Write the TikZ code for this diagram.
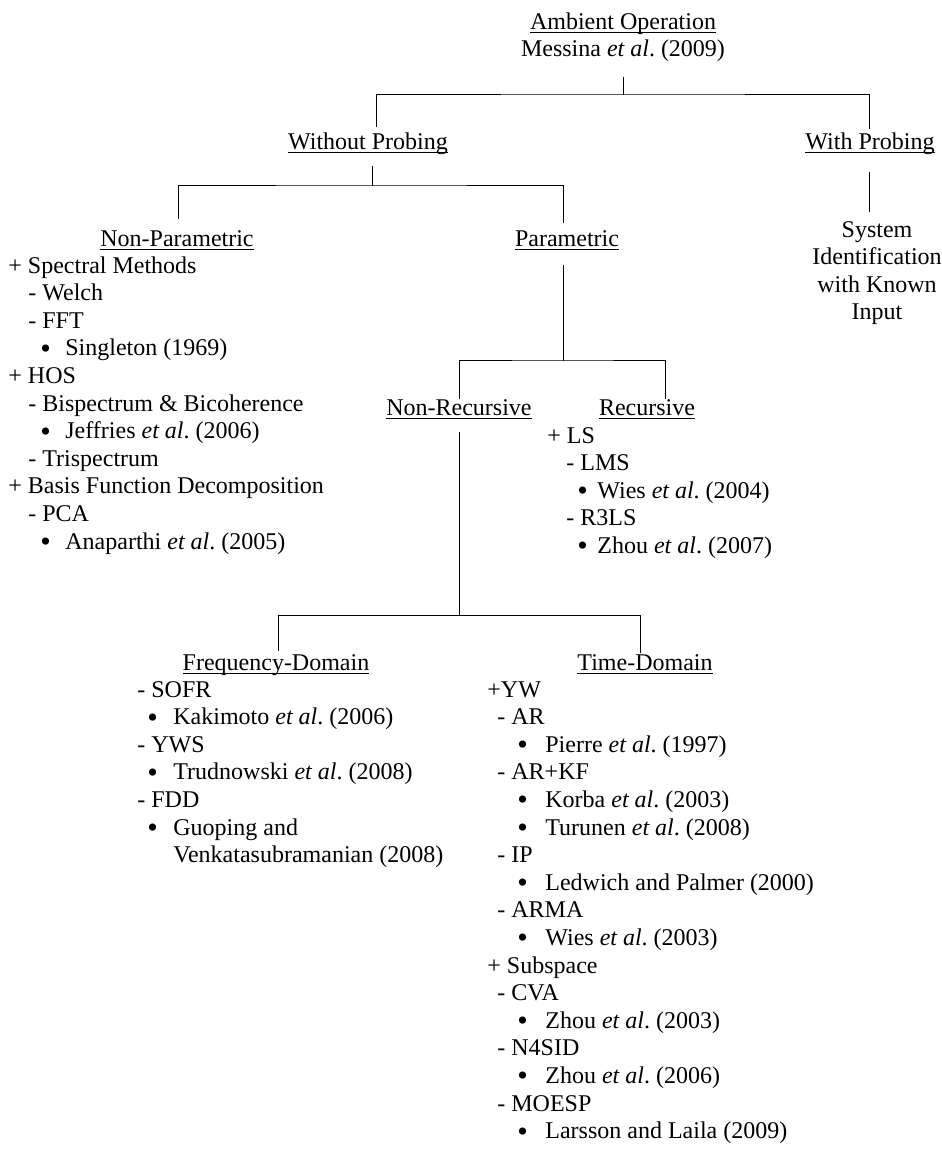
\documentclass[tikz,border=0pt]{standalone}
\usepackage{fontspec}
\setmainfont{Liberation Serif}
\frenchspacing

% underlined heading with a rule just below the baseline
\newcommand\ulhead[1]{\setbox0=\hbox{#1}\rlap{\rule[-1.9pt]{\wd0}{0.6pt}}\box0}
% list levels: "- item", bullet item, continuation of a bullet item
\newlength\indm \newlength\indb \newlength\indt
\newcommand\bul{\raisebox{-1.2pt}{\fontsize{15}{15}\selectfont •}}
\newcommand\Lm[1]{\hspace*{\indm}- #1}
\newcommand\Lb[1]{\hspace*{\indb}\makebox[\dimexpr\indt-\indb\relax][l]{\bul}#1}
\newcommand\Lc[1]{\hspace*{\indt}#1}
\newcommand\etal{\textit{et al}.}

\begin{document}
\begin{tikzpicture}[x=0.5pt,y=-0.5pt,
  every node/.style={inner sep=0pt, font=\fontsize{12}{13.8}\selectfont},
  head/.style={anchor=base},
  listbox/.style={anchor=base west},
  link/.style={line width=0.5pt, line cap=rect}]
\useasboundingbox (0,0) rectangle (942,1168);

% ---- headings -------------------------------------------------------
\node[head] (amb) at (623,29) {\begin{tabular}[t]{@{}c@{}}\ulhead{Ambient Operation}\\ Messina \etal{} (2009)\end{tabular}};
\node[head] (wop) at (368,149) {\ulhead{Without Probing}};
\node[head] (wp)  at (870,149) {\ulhead{With Probing}};
\node[head] (sysid) at (877,237) {\begin{tabular}[t]{@{}c@{}}System\\ Identification\\ with Known\\ Input\end{tabular}};
\node[head] (np)  at (177,246) {\ulhead{Non-Parametric}};
\node[head] (par) at (567,246) {\ulhead{Parametric}};
\node[head] (nrec) at (459,415) {\ulhead{Non-Recursive}};
\node[head] (rec) at (647,415) {\ulhead{Recursive}};
\node[head] (fd)  at (276,670) {\ulhead{Frequency-Domain}};
\node[head] (td)  at (645,670) {\ulhead{Time-Domain}};

% ---- lists ----------------------------------------------------------
\node[listbox] (nplist) at (8,273) {\setlength\indm{10pt}\setlength\indb{16pt}\setlength\indt{28.5pt}%
\begin{tabular}[t]{@{}l@{}}
+ Spectral Methods\\
\Lm{Welch}\\
\Lm{FFT}\\
\Lb{Singleton (1969)}\\
+ HOS\\
\Lm{Bispectrum \& Bicoherence}\\
\Lb{Jeffries \etal{} (2006)}\\
\Lm{Trispectrum}\\
+ Basis Function Decomposition\\
\Lm{PCA}\\
\Lb{Anaparthi \etal{} (2005)}
\end{tabular}};

\node[listbox] (reclist) at (547,443) {\setlength\indm{9.5pt}\setlength\indb{15pt}\setlength\indt{25pt}%
\begin{tabular}[t]{@{}l@{}}
+ LS\\
\Lm{LMS}\\
\Lb{Wies \etal{} (2004)}\\
\Lm{R3LS}\\
\Lb{Zhou \etal{} (2007)}
\end{tabular}};

\node[listbox] (fdlist) at (137,697) {\setlength\indm{0pt}\setlength\indb{5pt}\setlength\indt{18pt}%
\begin{tabular}[t]{@{}l@{}}
\Lm{SOFR}\\
\Lb{Kakimoto \etal{} (2006)}\\
\Lm{YWS}\\
\Lb{Trudnowski \etal{} (2008)}\\
\Lm{FDD}\\
\Lb{Guoping and}\\
\Lc{Venkatasubramanian (2008)}
\end{tabular}};

\node[listbox] (tdlist) at (487,697) {\setlength\indm{5pt}\setlength\indb{15pt}\setlength\indt{29pt}%
\begin{tabular}[t]{@{}l@{}}
+YW\\
\Lm{AR}\\
\Lb{Pierre \etal{} (1997)}\\
\Lm{AR+KF}\\
\Lb{Korba \etal{} (2003)}\\
\Lb{Turunen \etal{} (2008)}\\
\Lm{IP}\\
\Lb{Ledwich and Palmer (2000)}\\
\Lm{ARMA}\\
\Lb{Wies \etal{} (2003)}\\
+ Subspace\\
\Lm{CVA}\\
\Lb{Zhou \etal{} (2003)}\\
\Lm{N4SID}\\
\Lb{Zhou \etal{} (2006)}\\
\Lm{MOESP}\\
\Lb{Larsson and Laila (2009)}
\end{tabular}};

% ---- tree connectors ------------------------------------------------
% junction points of the brackets
\coordinate (j0) at (623,94);
\coordinate (j1) at (372,185);
\coordinate (j2) at (563,360);
\coordinate (j3) at (459,615);
% ends of the drops and stems
\coordinate (s0) at (623,77);
\coordinate (d0l) at (376,126);
\coordinate (d0r) at (869,128);
\coordinate (s1) at (372,166);
\coordinate (d1l) at (178,218);
\coordinate (d1r) at (563,222);
\coordinate (sw) at (869,172);
\coordinate (ew) at (869,211);
\coordinate (s2) at (563,265);
\coordinate (d2l) at (459,398);
\coordinate (d2r) at (665,398);
\coordinate (s3) at (459,432);
\coordinate (d3l) at (278,650);
\coordinate (d3r) at (640,652);

\draw[link] (s0) -- (j0);
\draw[link] (d0l) |- (j0) -| (d0r);
\draw[link] (s1) -- (j1);
\draw[link] (d1l) |- (j1) -| (d1r);
\draw[link] (sw) -- (ew);
\draw[link] (s2) -- (j2);
\draw[link] (d2l) |- (j2) -| (d2r);
\draw[link] (s3) -- (j3);
\draw[link] (d3l) |- (j3) -| (d3r);
\end{tikzpicture}
\end{document}
